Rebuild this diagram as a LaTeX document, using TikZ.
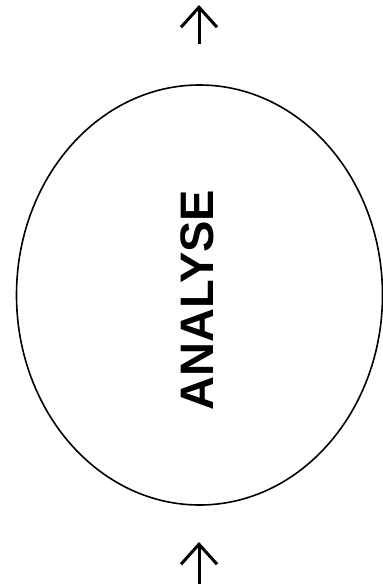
\documentclass[tikz,border=0pt]{standalone}
\usepackage{fontspec}
\setmainfont{Liberation Sans}
\usetikzlibrary{shapes.geometric,arrows.meta}
\begin{document}
\begin{tikzpicture}[x=1pt,y=-1pt,
  bubble/.style={draw, ellipse, line width=1.6pt, minimum width=366pt, minimum height=420pt, inner sep=0pt},
  label/.style={rotate=90, font=\fontsize{47}{50}\selectfont\bfseries, inner sep=0pt},
  flow/.style={line width=3pt, -{Straight Barb[length=20pt,width=36pt,line width=3pt]}}]
\useasboundingbox (0,0) rectangle (383,584);
\node[bubble] (e) at (199.5,295) {};
\node[label] (t) at (197,300) {ANALYSE};
\coordinate (a1s) at (199,44);
\coordinate (a1t) at (199,5);
\coordinate (a2s) at (199,590);
\coordinate (a2t) at (199,542);
\draw[flow] (a1s) -- (a1t);
\draw[flow] (a2s) -- (a2t);
\end{tikzpicture}
\end{document}
